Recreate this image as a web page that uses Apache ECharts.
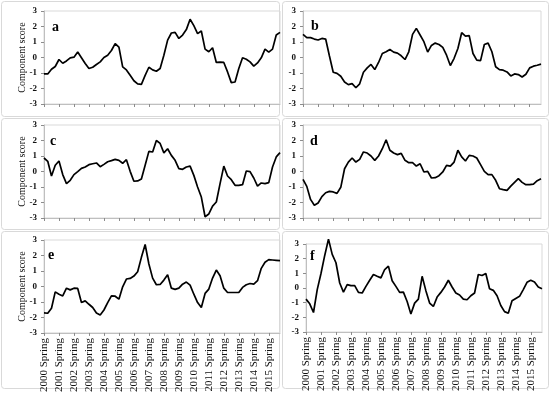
<!DOCTYPE html>
<html><head><meta charset="utf-8">
<script src="https://cdn.jsdelivr.net/npm/echarts@6/dist/echarts.min.js"></script>
<style>html,body{margin:0;padding:0;background:#fff}#c{width:550px;height:395px}</style>
</head><body><div id="c"></div>
<script>
// ---- data ----
const years = [2000,2001,2002,2003,2004,2005,2006,2007,2008,2009,2010,2011,2012,2013,2014,2015];
const seasons = ['Spring','Summer','Autumn','Winter'];
const panelNames = ['a','b','c','d','e','f'];
const yMin = -3, yMax = 3, yStep = 1;

const seriesA = [-1.06,-1.06,-0.76,-0.58,-0.13,-0.37,-0.22,-0.02,0.02,0.35,-0.02,-0.39,-0.71,-0.63,-0.45,-0.28,0,0.15,0.45,0.9,0.67,-0.6,-0.8,-1.15,-1.5,-1.7,-1.73,-1.15,-0.63,-0.8,-0.89,-0.71,0.15,1.12,1.58,1.62,1.23,1.45,1.8,2.47,2.06,1.54,1.71,0.54,0.37,0.63,-0.32,-0.3,-0.32,-0.93,-1.62,-1.58,-0.71,-0.02,-0.11,-0.28,-0.56,-0.35,-0.02,0.54,0.35,0.54,1.45,1.62];
const seriesB = [1.49,1.28,1.28,1.19,1.13,1.23,1.19,0.1,-0.95,-1.02,-1.21,-1.58,-1.75,-1.69,-1.95,-1.7,-0.95,-0.67,-0.45,-0.78,-0.32,0.26,0.37,0.52,0.35,0.28,0.11,-0.13,0.37,1.49,1.88,1.45,1.02,0.35,0.78,0.93,0.84,0.65,0.15,-0.52,-0.05,0.58,1.6,1.38,1.41,0.26,-0.17,-0.2,0.84,0.93,0.37,-0.6,-0.78,-0.82,-0.93,-1.19,-1.06,-1.1,-1.26,-1.08,-0.67,-0.56,-0.5,-0.43];
const seriesC = [0.87,0.66,-0.29,0.4,0.68,-0.2,-0.78,-0.57,-0.2,-0.01,0.2,0.29,0.44,0.5,0.55,0.31,0.46,0.63,0.7,0.78,0.72,0.53,0.76,0.01,-0.63,-0.61,-0.48,0.4,1.3,1.26,2.0,1.81,1.2,1.47,1.04,0.72,0.18,0.14,0.29,0.35,-0.25,-1.0,-1.65,-2.92,-2.74,-2.23,-1.97,-0.78,0.35,-0.29,-0.53,-0.89,-0.89,-0.85,0.03,-0.01,-0.42,-0.94,-0.74,-0.78,-0.72,0.29,0.94,1.22];
const seriesD = [-0.51,-0.96,-1.8,-2.18,-2.03,-1.62,-1.37,-1.28,-1.32,-1.41,-1.02,0.18,0.61,0.87,0.61,0.78,1.26,1.19,1.0,0.72,1.0,1.47,2.05,1.37,1.19,1.09,1.17,0.72,0.57,0.57,0.35,0.5,-0.03,0.01,-0.42,-0.4,-0.27,-0.03,0.4,0.35,0.61,1.37,0.94,0.68,1.04,1.0,0.87,0.44,0.01,-0.2,-0.2,-0.57,-1.11,-1.17,-1.22,-0.94,-0.7,-0.46,-0.7,-0.85,-0.85,-0.81,-0.59,-0.46];
const seriesE = [-1.71,-1.73,-1.41,-0.35,-0.5,-0.61,-0.11,-0.22,-0.11,-0.13,-1.04,-0.93,-1.15,-1.36,-1.71,-1.84,-1.52,-1.04,-0.61,-0.63,-0.82,-0.02,0.48,0.52,0.67,0.95,1.88,2.71,1.45,0.54,0.11,0.13,0.41,0.76,-0.11,-0.19,-0.11,0.15,0.28,0.09,-0.5,-1.04,-1.36,-0.45,-0.17,0.54,1.06,0.69,-0.11,-0.39,-0.39,-0.39,-0.39,-0.06,0.11,0.19,0.15,0.37,1.17,1.56,1.73,1.71,1.69,1.67];
const seriesF = [-0.76,-1.08,-1.67,-0.11,0.99,2.22,3.33,2.29,1.72,0.34,-0.28,0.23,0.16,0.16,-0.3,-0.34,0.11,0.53,0.92,0.8,0.69,1.26,1.49,0.5,0.11,-0.3,-0.28,-0.92,-1.77,-1.03,-0.76,0.8,-0.18,-1.03,-1.26,-0.62,-0.3,0.07,0.53,0.07,-0.34,-0.48,-0.76,-0.8,-0.53,-0.34,0.92,0.85,0.99,-0.05,-0.16,-0.53,-1.19,-1.61,-1.72,-0.87,-0.71,-0.57,-0.11,0.39,0.53,0.41,0.07,-0.05];
const yAxisTitle = 'Component score';

// ---- build ----
const categories = [];
years.forEach(y => seasons.forEach(s => categories.push(y + ' ' + s)));
const allSeries = [seriesA, seriesB, seriesC, seriesD, seriesE, seriesF];

const FONT = '"Liberation Serif","Times New Roman",serif';
const grids = [
  {left:44, top:11, width:236, height:93},
  {left:303, top:11, width:238, height:93},
  {left:44, top:125, width:236, height:93},
  {left:303, top:125, width:238, height:93},
  {left:44, top:240, width:236, height:93},
  {left:306, top:244, width:236, height:88}
];
const letterPos = [[52,27],[311,26],[50,141],[310,141],[48,255],[310,256]];

const option = {
  animation: false,
  backgroundColor: '#fff',
  grid: grids.map(g => Object.assign({show:true, borderColor:'#d9d9d9', borderWidth:1, backgroundColor:'transparent'}, g)),
  xAxis: grids.map((g, i) => ({
    type: 'category', gridIndex: i, data: categories, boundaryGap: false,
    axisLine: {onZero: false, lineStyle: {color: '#bfbfbf', width: 1}},
    axisTick: {show: true, interval: 3, length: 3, lineStyle: {color: '#8c8c8c'}},
    axisLabel: {show: i >= 4, interval: 3, rotate: 90, margin: 5, fontFamily: FONT, fontSize: 11, color: '#111'},
    splitLine: {show: false}
  })),
  yAxis: grids.map((g, i) => ({
    type: 'value', gridIndex: i, min: yMin, max: yMax, interval: yStep,
    axisLine: {show: true, lineStyle: {color: '#bfbfbf'}},
    axisTick: {show: true, length: 3, lineStyle: {color: '#8c8c8c'}},
    axisLabel: {fontFamily: FONT, fontSize: 9, fontWeight: 'bold', color: '#111', margin: 7},
    splitLine: {show: false}
  })),
  series: allSeries.map((d, i) => ({
    type: 'line', xAxisIndex: i, yAxisIndex: i, data: d, symbol: 'none', clip: false,
    lineStyle: {color: '#000', width: 1.7}
  })),
  graphic: []
};

// panel frames
const frames = [[1,1,278,115],[282,1,266,115],[1,118,278,111],[282,118,266,111],[1,231,278,157],[282,231,266,157]];
frames.forEach(f => option.graphic.push({type:'rect', shape:{x:f[0]+0.5,y:f[1]+0.5,width:f[2],height:f[3],r:3}, style:{fill:'none', stroke:'#d9d9d9', lineWidth:1}, z:-1}));
// panel letters
panelNames.forEach((n, i) => option.graphic.push({type:'text', x:letterPos[i][0], y:letterPos[i][1], style:{text:n, fontFamily:FONT, fontSize:14, fontWeight:'bold', fill:'#000', textAlign:'left', textVerticalAlign:'middle'}}));
// y axis titles on left panels
[0,2,4].forEach(i => {
  const g = grids[i];
  option.graphic.push({type:'text', x:22, y:g.top + g.height/2, rotation: Math.PI/2,
    style:{text:yAxisTitle, fontFamily:FONT, fontSize:10, fill:'#111', textAlign:'center', textVerticalAlign:'middle'}});
});

const chart = echarts.init(document.getElementById('c'), null, {renderer:'canvas'});
chart.setOption(option);
</script>
</body></html>
